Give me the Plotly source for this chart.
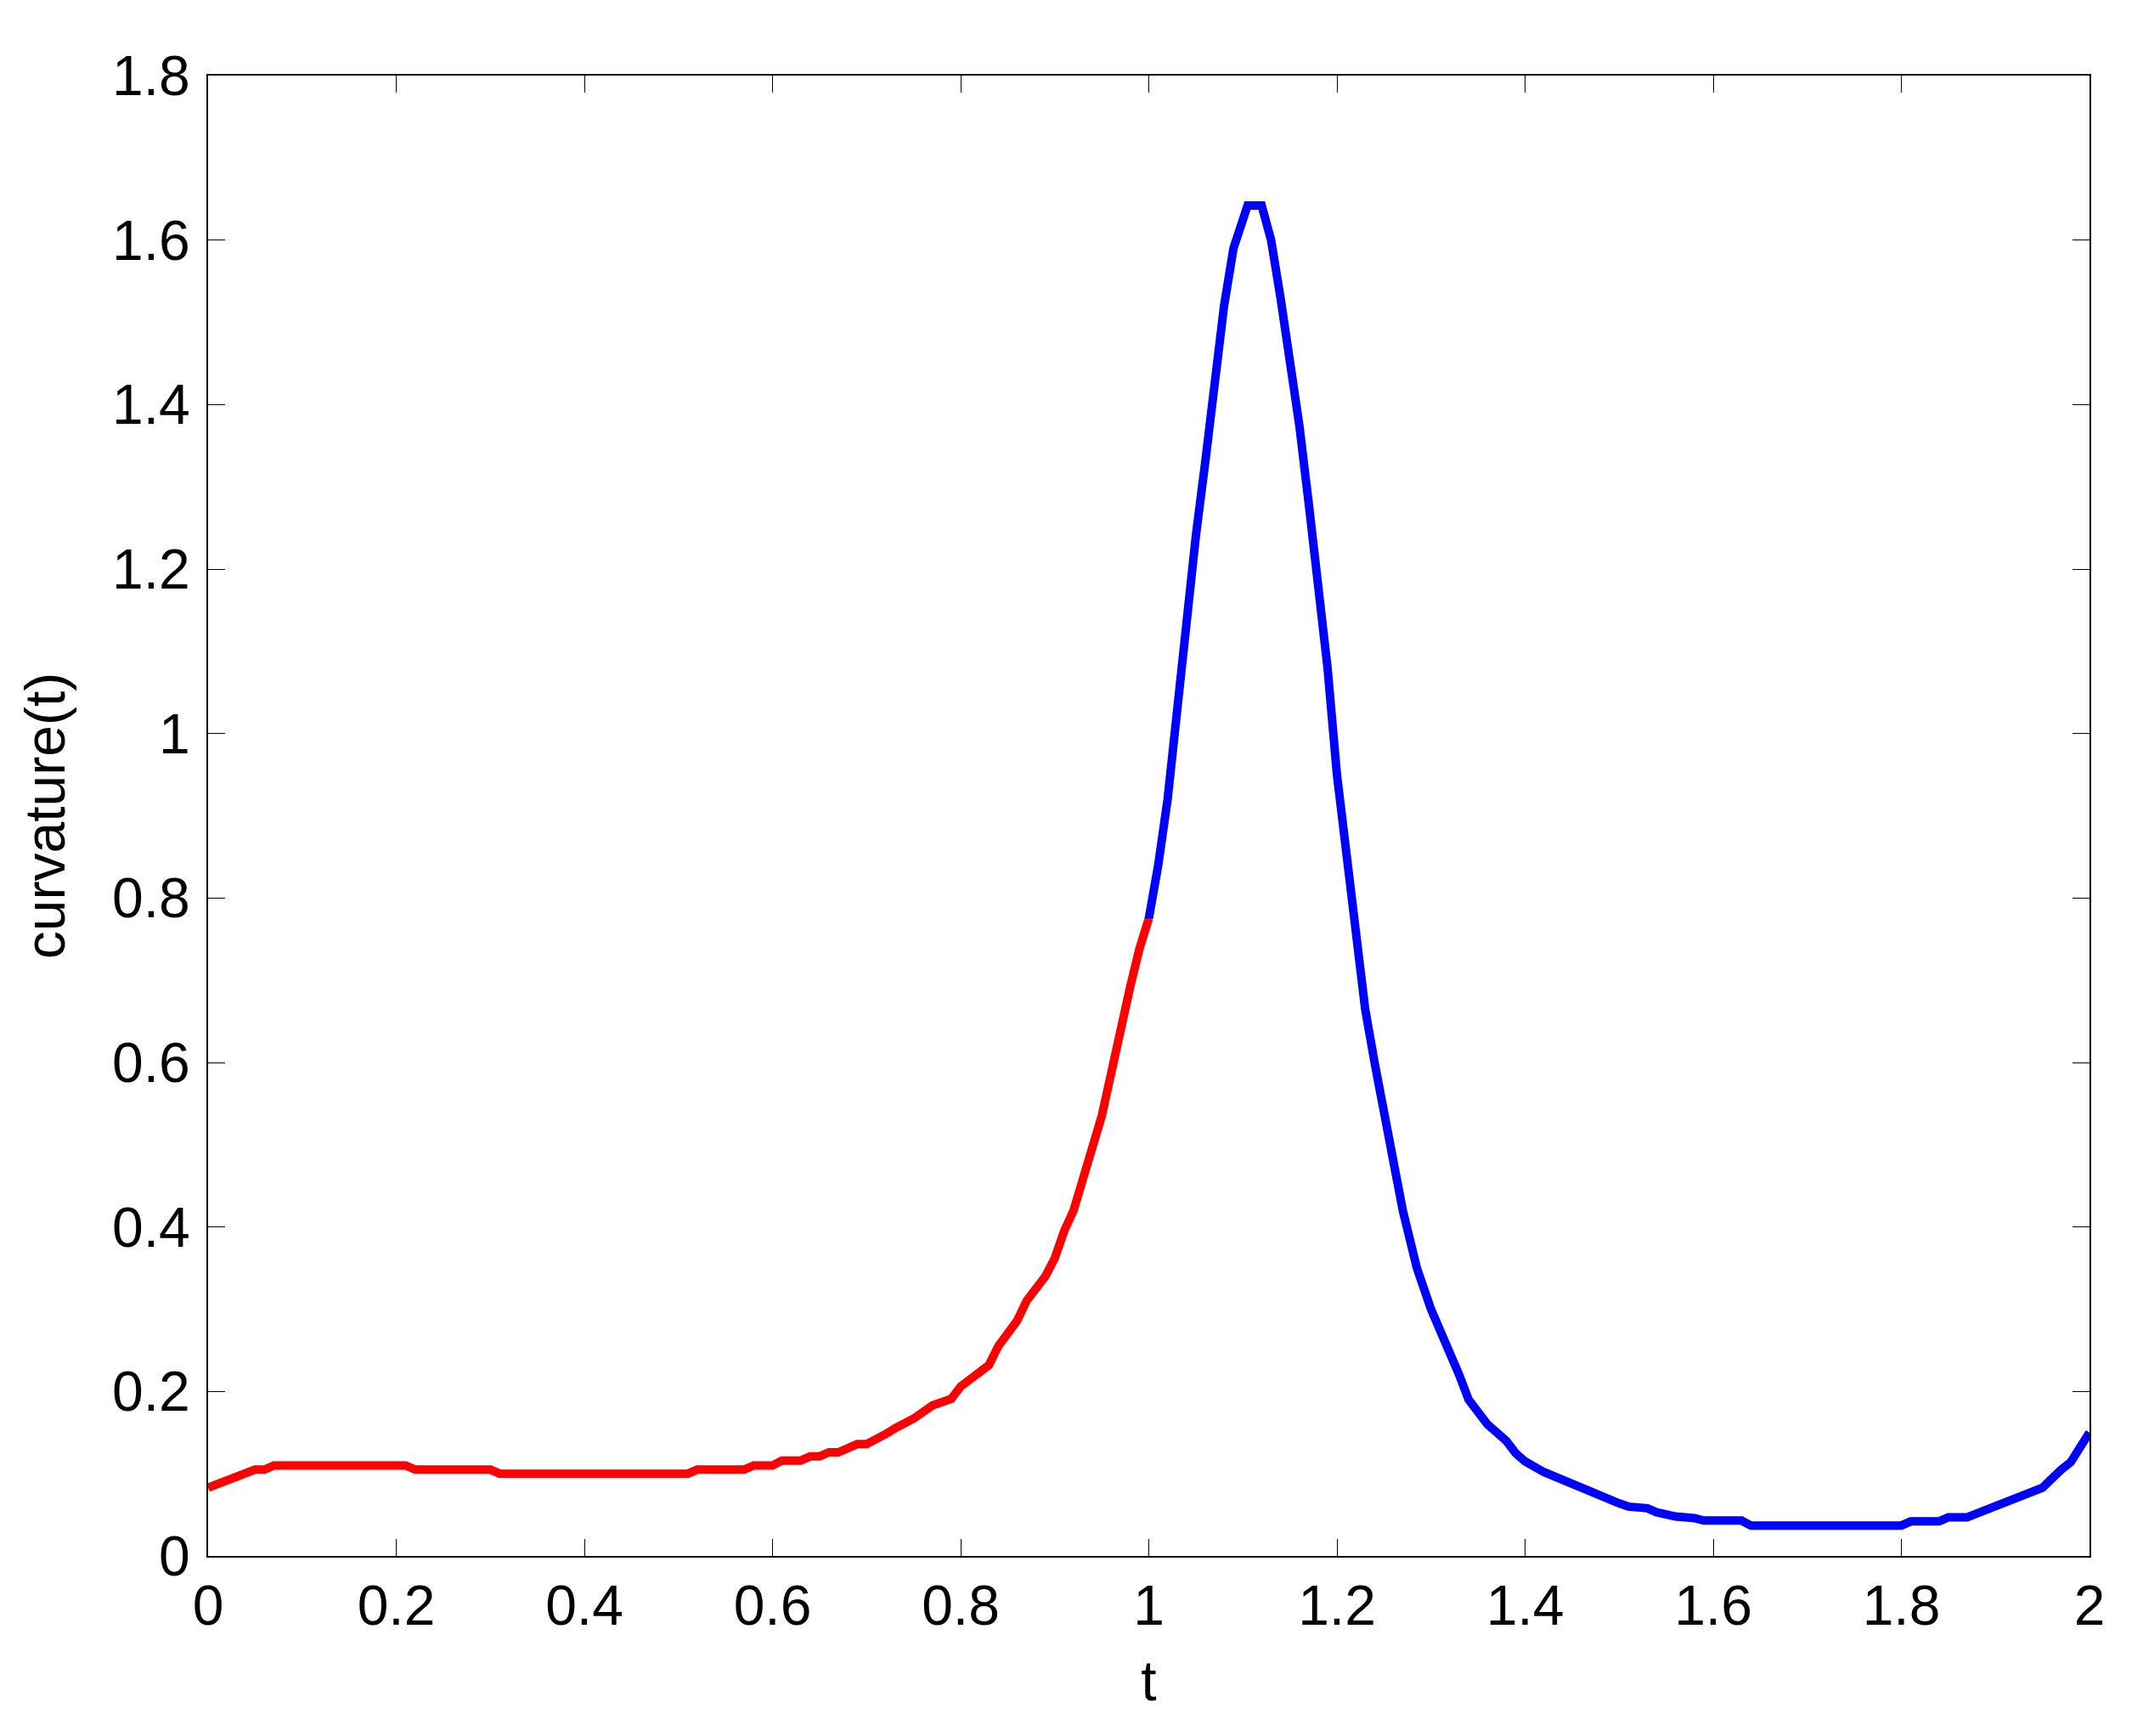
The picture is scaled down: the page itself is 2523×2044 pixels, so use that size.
import plotly.graph_objects as go

# red segment, t in [0, 1]
t_red = [0.00, 0.02, 0.03, 0.04, 0.05, 0.06, 0.07, 0.21, 0.22, 0.30, 0.31, 0.51,
         0.52, 0.57, 0.58, 0.60, 0.61, 0.63, 0.64, 0.65, 0.66, 0.67, 0.69, 0.70,
         0.71, 0.72, 0.73, 0.75, 0.77, 0.79, 0.80, 0.82, 0.83, 0.84, 0.86, 0.87,
         0.88, 0.89, 0.90, 0.91, 0.92, 0.93, 0.94, 0.95, 0.96, 0.97, 0.98, 0.99, 1.00]
k_red = [0.083, 0.092, 0.098, 0.100, 0.105, 0.105, 0.110, 0.110, 0.105, 0.105, 0.100, 0.100,
         0.105, 0.105, 0.110, 0.110, 0.116, 0.116, 0.121, 0.121, 0.126, 0.126, 0.136, 0.136,
         0.141, 0.148, 0.155, 0.167, 0.183, 0.191, 0.206, 0.222, 0.232, 0.255, 0.286, 0.310,
         0.325, 0.340, 0.362, 0.395, 0.420, 0.460, 0.500, 0.535, 0.587, 0.645, 0.691, 0.738, 0.775]

# blue segment, t in [1, 2]
t_blue = [1.00, 1.01, 1.02, 1.03, 1.04, 1.05, 1.06, 1.07, 1.08, 1.09, 1.10, 1.105,
          1.12, 1.125, 1.13, 1.14, 1.15, 1.16, 1.17, 1.18, 1.19, 1.20, 1.21, 1.22,
          1.23, 1.24, 1.25, 1.26, 1.27, 1.28, 1.285, 1.30, 1.31, 1.32, 1.33, 1.34,
          1.35, 1.36, 1.37, 1.38, 1.39, 1.40, 1.42, 1.44, 1.46, 1.48, 1.49, 1.50,
          1.51, 1.53, 1.54, 1.55, 1.56, 1.58, 1.59, 1.63, 1.64, 1.80, 1.81, 1.84,
          1.85, 1.87, 1.89, 1.90, 1.92, 1.94, 1.95, 1.97, 1.98, 2.00]
k_blue = [0.775, 0.84, 0.92, 1.03, 1.15, 1.24, 1.33, 1.43, 1.52, 1.59, 1.625, 1.642,
          1.642, 1.62, 1.60, 1.53, 1.46, 1.375, 1.28, 1.18, 1.08, 0.95, 0.85, 0.75,
          0.665, 0.60, 0.545, 0.48, 0.42, 0.37, 0.35, 0.30, 0.275, 0.245, 0.22, 0.19,
          0.175, 0.16, 0.15, 0.14, 0.125, 0.115, 0.102, 0.092, 0.082, 0.074, 0.067, 0.064,
          0.060, 0.058, 0.053, 0.050, 0.048, 0.046, 0.043, 0.043, 0.037, 0.037, 0.042, 0.042,
          0.047, 0.047, 0.056, 0.058, 0.068, 0.078, 0.083, 0.105, 0.114, 0.15]

x_ticks = [0, 0.2, 0.4, 0.6, 0.8, 1, 1.2, 1.4, 1.6, 1.8, 2]
x_labels = ["0", "0.2", "0.4", "0.6", "0.8", "1", "1.2", "1.4", "1.6", "1.8", "2"]
y_ticks = [0, 0.2, 0.4, 0.6, 0.8, 1, 1.2, 1.4, 1.6, 1.8]
y_labels = ["0", "0.2", "0.4", "0.6", "0.8", "1", "1.2", "1.4", "1.6", "1.8"]

font = dict(family="Liberation Sans, Arial, sans-serif", size=66, color="black")

fig = go.Figure()
fig.add_trace(go.Scatter(x=t_red, y=k_red, mode="lines",
                         line=dict(color="#ff0000", width=10), showlegend=False))
fig.add_trace(go.Scatter(x=t_blue, y=k_blue, mode="lines",
                         line=dict(color="#0000ff", width=10), showlegend=False))

axis_common = dict(
    showline=True, linecolor="black", linewidth=2, mirror="ticks",
    ticks="inside", ticklen=20, tickwidth=1.3, tickcolor="black",
    showgrid=False, zeroline=False, tickfont=font,
)

fig.update_xaxes(
    range=[0, 2], tickvals=x_ticks, ticktext=x_labels,
    title=dict(text="t", font=font, standoff=30),
    ticklabelstandoff=0, **axis_common,
)
fig.update_yaxes(
    range=[0, 1.8], tickvals=y_ticks, ticktext=y_labels,
    title=dict(text="curvature(t)", font=font, standoff=34),
    ticklabelstandoff=6, **axis_common,
)

# page body adds an 8px offset, so the margins are trimmed to match
fig.update_layout(
    width=2523, height=2044,
    margin=dict(l=237, r=71, t=81, b=220),
    paper_bgcolor="white", plot_bgcolor="white",
    font=font,
)

fig.write_html("out.html")
